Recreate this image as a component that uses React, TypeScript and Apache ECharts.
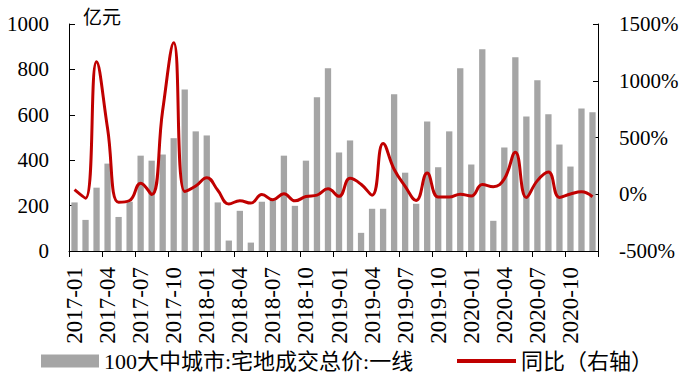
import React, { useEffect, useRef } from "react";
import * as echarts from "echarts";

const categories: string[] = [];
for (const y of [2017, 2018, 2019, 2020]) {
  for (let m = 1; m <= 12; m++) categories.push(`${y}-${m < 10 ? "0" + m : m}`);
}

const landValue = [
  214, 137, 279, 385, 150, 217, 420, 398, 425, 497, 712, 527,
  509, 214, 46, 177, 37, 217, 226, 420, 199, 398, 677, 805,
  434, 487, 80, 186, 186, 690, 345, 208, 571, 369, 527, 805,
  381, 889, 133, 456, 854, 593, 752, 602, 469, 372, 628, 611,
];

const yoy = [
  40, -35, 1167, 580, -70, -55, 98, -3, 740, 1335, 25, 72,
  145, 35, -85, -58, -78, -2, -48, 5, -58, -20, -8, 48,
  -18, 140, 88, -8, 448, 220, 70, -55, 187, -25, -25, 0,
  -15, 85, 66, 135, 370, -28, 120, 195, -28, 2, 22, -22,
];

const barName = "100大中城市:宅地成交总价:一线";
const lineName = "同比（右轴）";
const unitLabel = "亿元";

const FONT = '"Liberation Serif", "Noto Sans CJK SC", serif';

export default function App() {
  const ref = useRef<HTMLDivElement>(null);
  useEffect(() => {
    if (!ref.current) return;
    const chart = echarts.init(ref.current, undefined, { renderer: "svg" });
    chart.setOption({
      animation: false,
      backgroundColor: "#ffffff",
      textStyle: { fontFamily: FONT, color: "#000" },
      grid: { left: 69, right: 92, top: 24, bottom: 135, containLabel: false },
      graphic: [
        {
          type: "text",
          left: 83,
          top: 6,
          style: {
            text: unitLabel,
            fontFamily: "Noto Sans CJK SC",
            fontSize: 19,
            fill: "#000",
          },
        },
      ],
      legend: [
        {
          left: 36,
          top: 345,
          itemWidth: 58,
          itemHeight: 13,
          textStyle: { fontFamily: FONT, fontSize: 22, color: "#000" },
          data: [{ name: barName, icon: "rect" }],
        },
        {
          left: 452,
          top: 345,
          itemWidth: 59,
          itemHeight: 4,
          textStyle: { fontFamily: FONT, fontSize: 22, color: "#000" },
          data: [{ name: lineName, icon: "rect" }],
        },
      ],
      xAxis: {
        type: "category",
        data: categories,
        boundaryGap: true,
        axisLine: { lineStyle: { color: "#000", width: 1 } },
        axisTick: { show: true, interval: 2, length: 6, lineStyle: { color: "#000" } },
        axisLabel: {
          interval: 2,
          rotate: 90,
          margin: 16,
          fontFamily: FONT,
          fontSize: 23,
          color: "#000",
        },
      },
      yAxis: [
        {
          type: "value",
          min: 0,
          max: 1000,
          interval: 200,
          splitLine: { show: false },
          axisLine: { show: true, lineStyle: { color: "#000" } },
          axisTick: { show: true, inside: true, length: 6, lineStyle: { color: "#000" } },
          axisLabel: {
            fontFamily: FONT,
            fontSize: 21,
            color: "#000",
            margin: 20,
            formatter: (v: number) => String(v),
          },
        },
        {
          type: "value",
          min: -500,
          max: 1500,
          interval: 500,
          splitLine: { show: false },
          axisLine: { show: true, lineStyle: { color: "#000" } },
          axisTick: { show: true, inside: true, length: 5, lineStyle: { color: "#000" } },
          axisLabel: {
            fontFamily: FONT,
            fontSize: 21,
            color: "#000",
            margin: 21,
            formatter: (v: number) => String(v) + "%",
          },
        },
      ],
      series: [
        {
          name: barName,
          type: "bar",
          data: landValue,
          barWidth: 6.3,
          itemStyle: { color: "#A5A5A5" },
          yAxisIndex: 0,
        },
        {
          name: lineName,
          type: "line",
          data: yoy,
          yAxisIndex: 1,
          smooth: 0.45,
          symbol: "none",
          lineStyle: { color: "#C00000", width: 3 },
          itemStyle: { color: "#C00000" },
        },
      ],
    });
    return () => chart.dispose();
  }, []);
  return (
    <div
      ref={ref}
      style={{ position: "fixed", left: 0, top: 0, width: 690, height: 386, background: "#fff" }}
    />
  );
}
